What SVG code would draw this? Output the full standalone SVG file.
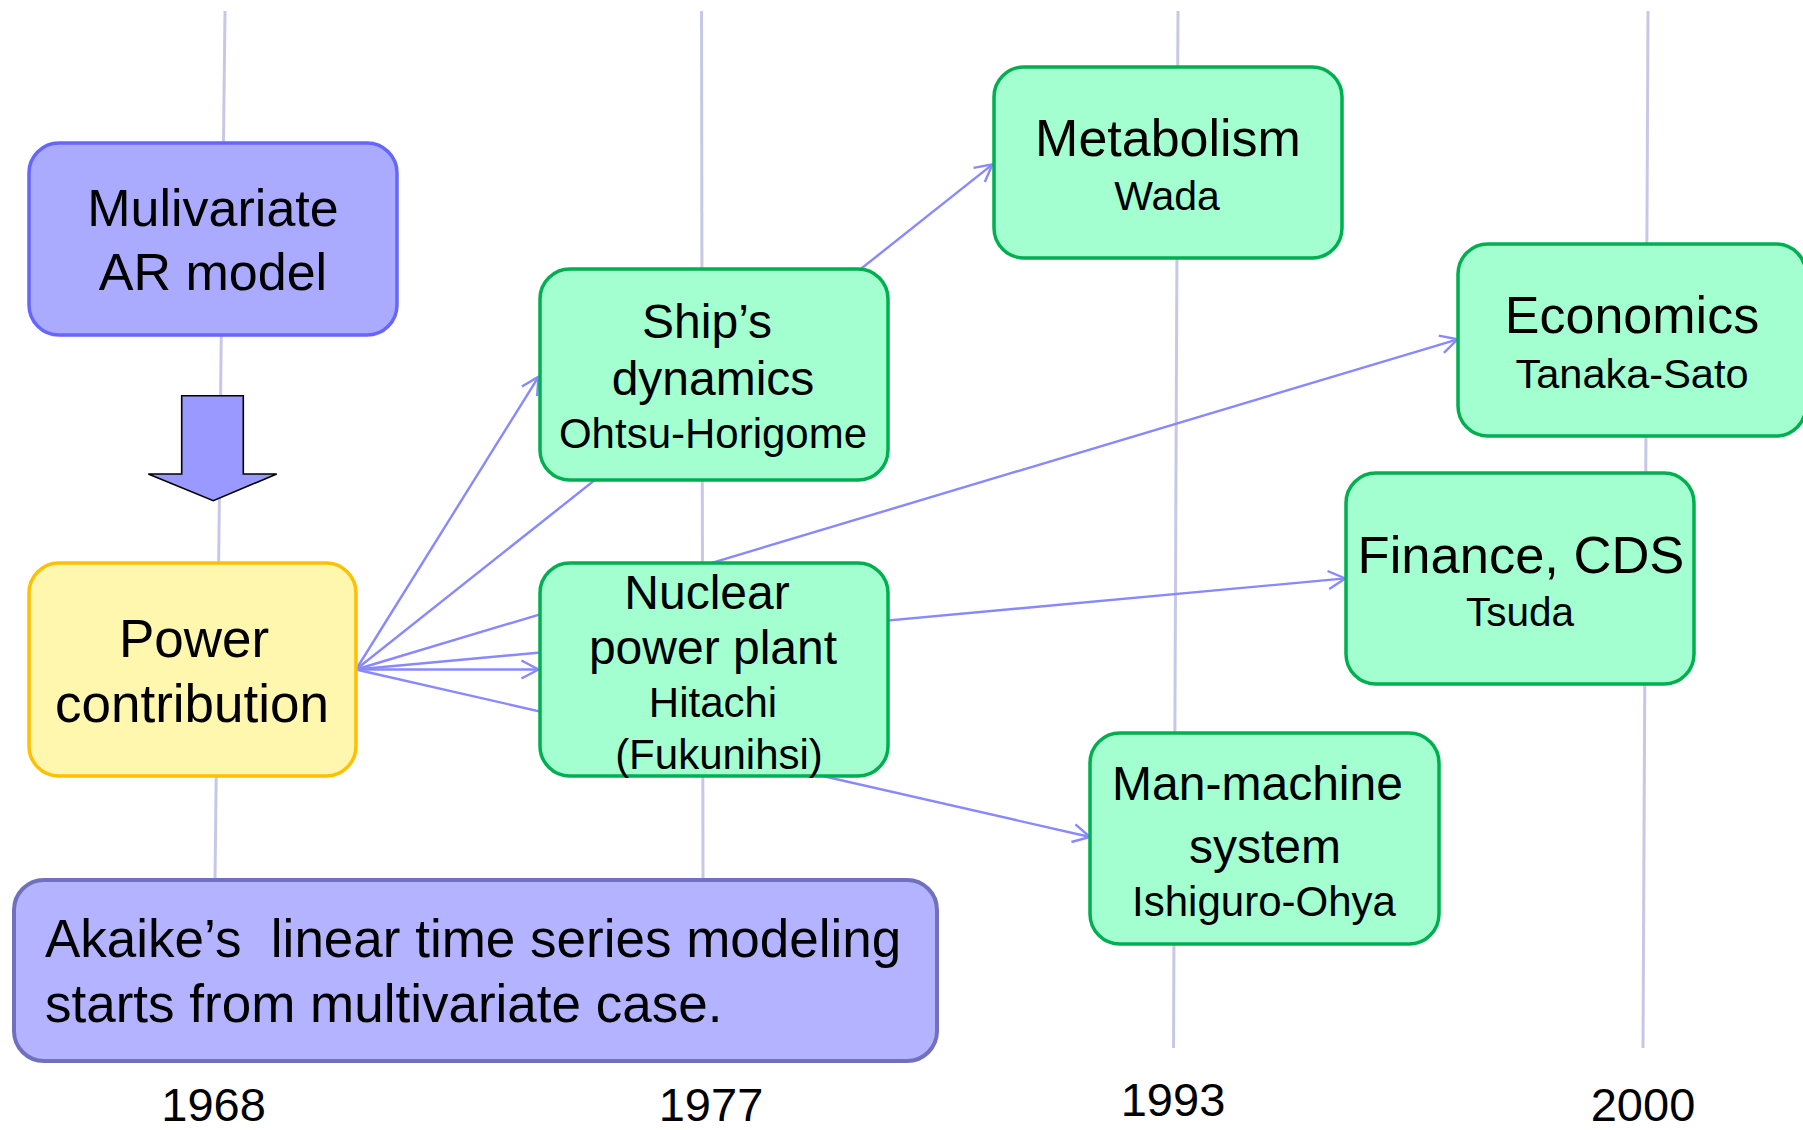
<svg xmlns="http://www.w3.org/2000/svg" width="1803" height="1130" viewBox="0 0 1803 1130">
  <style>
    text { font-family: "Liberation Sans", Arial, sans-serif; fill: #000; text-anchor: middle; }
    .big { font-size: 53px; }
    .mid { font-size: 48px; }
    .small { font-size: 42px; }
    .year { font-size: 47px; }
    .timeline { stroke: #c8c8e6; stroke-width: 3; fill: none; }
    .link { stroke: #8888ff; stroke-width: 2.4; fill: none; marker-end: url(#open); }
    .green { fill: #a3ffcf; stroke: #00b050; stroke-width: 3.5; }
  </style>
  <defs>
    <marker id="open" markerUnits="userSpaceOnUse" markerWidth="22" markerHeight="22" viewBox="0 0 22 22" refX="19" refY="11" orient="auto">
      <path d="M2,2 L19,11 L2,20" fill="none" stroke="#8888ff" stroke-width="2.4"/>
    </marker>
  </defs>

  <rect width="1803" height="1130" fill="#ffffff"/>

  <!-- year guide lines -->
  <g id="timelines">
    <line class="timeline" x1="225" y1="11" x2="215" y2="880"/>
    <line class="timeline" x1="701.5" y1="11" x2="703" y2="880"/>
    <line class="timeline" x1="1178" y1="11" x2="1173.5" y2="1048"/>
    <line class="timeline" x1="1648" y1="11" x2="1643" y2="1048"/>
  </g>

  <!-- connectors fan out from the power contribution box -->
  <g id="connectors">
    <line class="link" x1="356" y1="669.5" x2="538.5" y2="376.8"/>
    <line class="link" x1="356" y1="669.5" x2="992.5" y2="164.4"/>
    <line class="link" x1="356" y1="669.5" x2="1457.6" y2="339.3"/>
    <line class="link" x1="356" y1="669.5" x2="1345.3" y2="578.4"/>
    <line class="link" x1="356" y1="669.5" x2="538.5" y2="669.5"/>
    <line class="link" x1="356" y1="669.5" x2="1090" y2="837"/>
  </g>

  <g id="mulivariate">
    <rect x="29" y="143" width="368" height="192" rx="30" ry="30" fill="#aaaaff" stroke="#6666ff" stroke-width="3.5"/>
    <text class="big" x="213" y="226" style="font-size:52px">Mulivariate</text>
    <text class="big" x="213" y="290" style="font-size:52px">AR model</text>
  </g>

  <g id="block-arrow">
    <path d="M181.7,395.7 H243.3 V474 H276.7 L213.3,500.7 L148.3,474 H181.7 Z" fill="#9999ff" stroke="#000" stroke-width="1.6" stroke-linejoin="miter"/>
  </g>

  <g id="power">
    <rect x="29" y="563" width="327" height="213" rx="30" ry="30" fill="#fff7ae" stroke="#ffc000" stroke-width="3.5"/>
    <text class="big" x="194" y="657">Power</text>
    <text class="big" x="192" y="722">contribution</text>
  </g>

  <g id="ship">
    <rect class="green" x="540" y="269" width="348" height="211" rx="30" ry="30"/>
    <text class="mid" x="707" y="337.5">Ship’s</text>
    <text class="mid" x="713" y="394.6">dynamics</text>
    <text class="small" x="713" y="447.5">Ohtsu-Horigome</text>
  </g>

  <g id="nuclear">
    <rect class="green" x="540" y="563" width="348" height="213" rx="30" ry="30"/>
    <text class="mid" x="707" y="608.5">Nuclear</text>
    <text class="mid" x="713" y="664">power plant</text>
    <text class="small" x="713" y="717">Hitachi</text>
    <text class="small" x="719" y="768.5">(Fukunihsi)</text>
  </g>

  <g id="metabolism">
    <rect class="green" x="994" y="67" width="348" height="191" rx="30" ry="30"/>
    <text class="big" x="1168" y="156.4" style="font-size:52px">Metabolism</text>
    <text class="small" x="1167" y="210" style="font-size:41px">Wada</text>
  </g>

  <g id="economics">
    <rect class="green" x="1458" y="244" width="348" height="192" rx="30" ry="30"/>
    <text class="big" x="1632" y="333" style="font-size:52px">Economics</text>
    <text class="small" x="1632" y="387.5" style="font-size:41.5px">Tanaka-Sato</text>
  </g>

  <g id="finance">
    <rect class="green" x="1346" y="473" width="348" height="211" rx="30" ry="30"/>
    <text class="big" x="1521" y="573" style="font-size:52.5px">Finance, CDS</text>
    <text class="small" x="1520" y="626" style="font-size:40.5px">Tsuda</text>
  </g>

  <g id="man-machine">
    <rect class="green" x="1090" y="733" width="349" height="211" rx="30" ry="30"/>
    <text class="mid" x="1257.5" y="799.6">Man-machine</text>
    <text class="mid" x="1265" y="863">system</text>
    <text class="small" x="1264" y="916">Ishiguro-Ohya</text>
  </g>

  <g id="akaike-note">
    <rect x="14" y="880" width="923" height="181" rx="30" ry="30" fill="#b3b3ff" stroke="#7070bf" stroke-width="4"/>
    <text class="big" x="45" y="956.5" style="text-anchor:start" xml:space="preserve">Akaike’s  linear time series modeling</text>
    <text class="big" x="45" y="1021.6" style="text-anchor:start">starts from multivariate case.</text>
  </g>

  <g id="years">
    <text class="year" x="213.6" y="1121">1968</text>
    <text class="year" x="711" y="1121">1977</text>
    <text class="year" x="1173" y="1116">1993</text>
    <text class="year" x="1643" y="1121">2000</text>
  </g>
</svg>
